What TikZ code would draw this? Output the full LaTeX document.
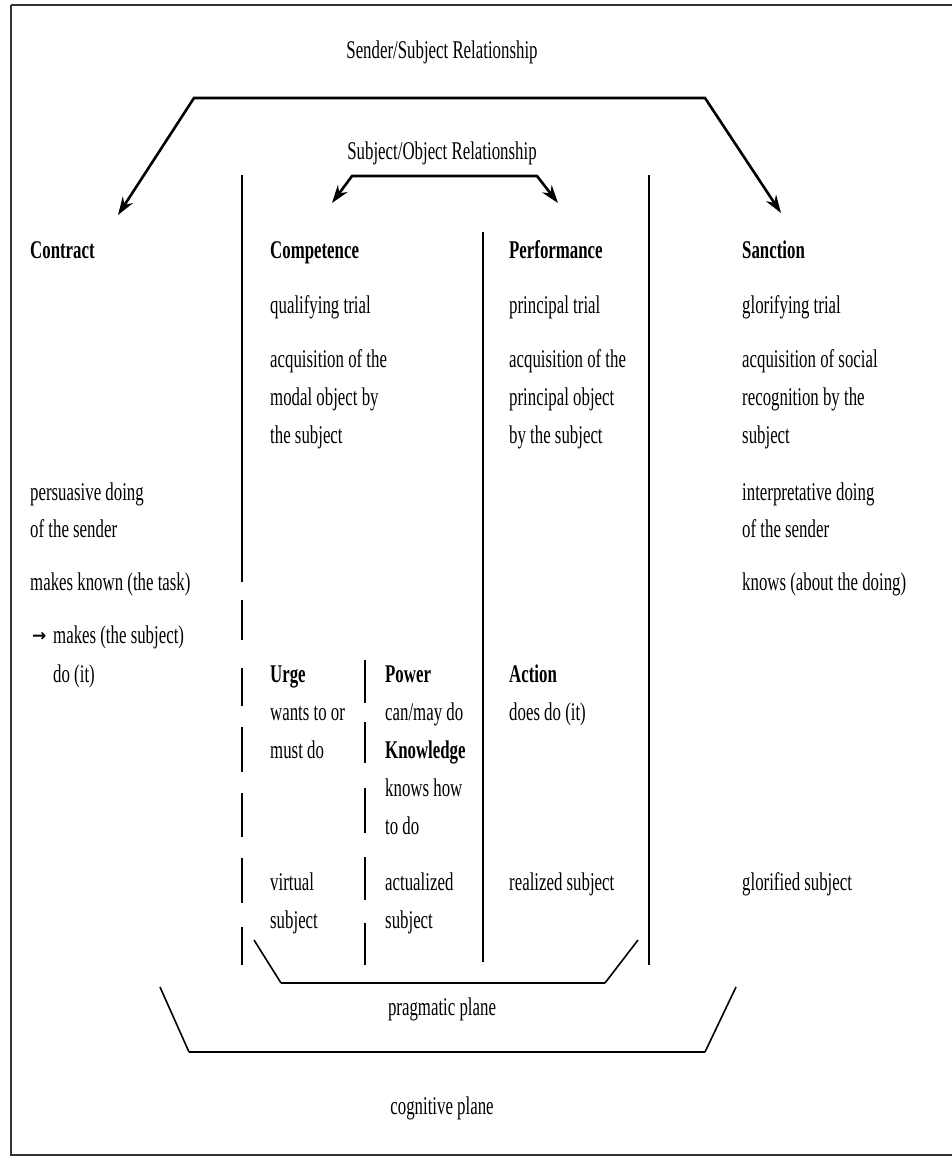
\documentclass[tikz,border=0pt]{standalone}
\usepackage{fontspec}
\setmainfont{Liberation Serif}[FakeStretch=0.66]
\newfontfamily\symfont{DejaVu Sans}
\usetikzlibrary{arrows.meta}
\begin{document}
\begin{tikzpicture}[x=1pt,y=-1pt,
  txt/.style={anchor=base west, inner sep=0pt, font=\fontsize{25.5}{30}\selectfont},
  ctxt/.style={txt, anchor=base},
  hd/.style={txt, font=\fontsize{25.5}{30}\selectfont\bfseries},
  vline/.style={line width=1.6pt},
  arr/.style={line width=2.6pt, {Stealth[length=18pt,width=12pt]}-{Stealth[length=18pt,width=12pt]}, line join=miter},
  brkh/.style={line width=2.6pt},
  brkd/.style={line width=1.6pt},
  frame/.style={line width=1.4pt, black!80},
]
\useasboundingbox (0,0) rectangle (952,1160);
% frame
\coordinate (fTL) at (11,5);
\coordinate (fTR) at (952,5);
\coordinate (fBL) at (11,1155);
\coordinate (fBR) at (952,1155);
\draw[frame, line width=2.6pt] (fTL) -- (fTR);
\draw[frame] (fTL) -- (fBL) -- (fBR);

% titles
\node[ctxt] (ssr) at (442,58) {Sender/Subject Relationship};
\node[ctxt] (sor) at (442,159) {Subject/Object Relationship};

% big arrow
\coordinate (bigL) at (118,215);
\coordinate (bigA) at (194,98);
\coordinate (bigB) at (705,98);
\coordinate (bigR) at (781,213);
\draw[arr] (bigL) -- (bigA) -- (bigB) -- (bigR);
% small arrow
\coordinate (smL) at (332,203);
\coordinate (smA) at (352,176);
\coordinate (smB) at (537,176);
\coordinate (smR) at (558,203);
\draw[arr] (smL) -- (smA) -- (smB) -- (smR);

% vertical dividers
\coordinate (v1t) at (242,175);
\coordinate (v1b) at (242,965);
\draw[vline, dash pattern=on 407pt off 18pt on 40pt off 28pt on 38pt off 21pt on 45pt off 21pt on 44pt off 21pt on 45pt off 24pt on 60pt] (v1t) -- (v1b);
\coordinate (v2t) at (365,660);
\coordinate (v2b) at (365,965);
\draw[vline, dash pattern=on 43pt off 19pt on 41pt off 25pt on 45pt off 24pt on 43pt off 23pt on 60pt] (v2t) -- (v2b);
\coordinate (v3t) at (483,232);
\coordinate (v3b) at (483,962);
\draw[vline] (v3t) -- (v3b);
\coordinate (v4t) at (649,175);
\coordinate (v4b) at (649,965);
\draw[vline] (v4t) -- (v4b);

% headings
\node[hd] (contract) at (30,258) {Contract};
\node[hd] (competence) at (270,258) {Competence};
\node[hd] (performance) at (509,258) {Performance};
\node[hd] (sanction) at (742,258) {Sanction};

% trials
\node[txt] (qual) at (270,313) {qualifying trial};
\node[txt] (princ) at (509,313) {principal trial};
\node[txt] (glor) at (742,313) {glorifying trial};

% acquisitions
\node[txt] (acqA1) at (270,367) {acquisition of the};
\node[txt] (acqA2) at (270,405) {modal object by};
\node[txt] (acqA3) at (270,443) {the subject};
\node[txt] (acqB1) at (509,367) {acquisition of the};
\node[txt] (acqB2) at (509,405) {principal object};
\node[txt] (acqB3) at (509,443) {by the subject};
\node[txt] (acqC1) at (742,367) {acquisition of social};
\node[txt] (acqC2) at (742,405) {recognition by the};
\node[txt] (acqC3) at (742,443) {subject};

% sender doings
\node[txt] (pers1) at (30,500) {persuasive doing};
\node[txt] (pers2) at (30,537) {of the sender};
\node[txt] (int1) at (742,500) {interpretative doing};
\node[txt] (int2) at (742,537) {of the sender};
\node[txt] (mk) at (30,590) {makes known (the task)};
\node[txt] (kn) at (742,590) {knows (about the doing)};
\node[txt, font=\symfont\fontsize{17}{20}\selectfont\bfseries] (arrsym) at (32,641) {→};
\node[txt] (mks1) at (53,643) {makes (the subject)};
\node[txt] (mks2) at (53,682) {do (it)};

% modalities
\node[hd] (urge) at (270,682) {Urge};
\node[txt] (urge1) at (270,720) {wants to or};
\node[txt] (urge2) at (270,758) {must do};
\node[hd] (power) at (385,682) {Power};
\node[txt] (power1) at (385,720) {can/may do};
\node[hd] (know) at (385,758) {Knowledge};
\node[txt] (know1) at (385,796) {knows how};
\node[txt] (know2) at (385,834) {to do};
\node[hd] (action) at (509,682) {Action};
\node[txt] (action1) at (509,720) {does do (it)};

% subjects
\node[txt] (virt1) at (270,890) {virtual};
\node[txt] (virt2) at (270,928) {subject};
\node[txt] (act1) at (385,890) {actualized};
\node[txt] (act2) at (385,928) {subject};
\node[txt] (real) at (509,890) {realized subject};
\node[txt] (glsub) at (742,890) {glorified subject};

% brackets
\coordinate (pA) at (254,940);
\coordinate (pB) at (281,983);
\coordinate (pC) at (605,983);
\coordinate (pD) at (638,940);
\draw[brkd] (pA) -- (pB);
\draw[brkh] (pB) -- (pC);
\draw[brkd] (pC) -- (pD);
\node[ctxt] (prag) at (442,1015) {pragmatic plane};
\coordinate (cA) at (160,987);
\coordinate (cB) at (189,1052);
\coordinate (cC) at (705,1052);
\coordinate (cD) at (736,987);
\draw[brkd] (cA) -- (cB);
\draw[brkh] (cB) -- (cC);
\draw[brkd] (cC) -- (cD);
\node[ctxt] (cogn) at (442,1114) {cognitive plane};
\end{tikzpicture}
\end{document}
